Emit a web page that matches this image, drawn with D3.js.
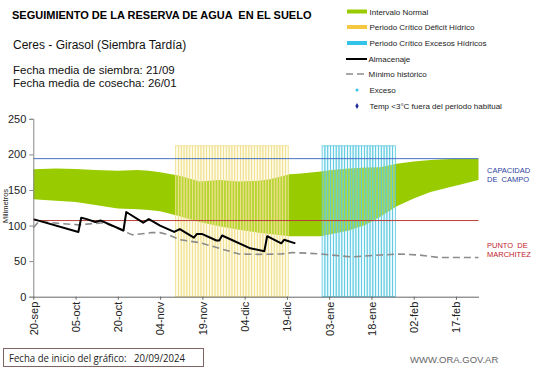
<!DOCTYPE html>
<html>
<head>
<meta charset="utf-8">
<script src="https://cdn.jsdelivr.net/npm/d3@7"></script>
<style>
  body { margin: 0; background: #fff; }
  svg { display: block; font-family: Arial, "Liberation Sans", sans-serif; }
  text { white-space: pre; }
</style>
</head>
<body>
<svg id="chart" width="541" height="368"></svg>
<script>
// data (days counted from 20/09/2024)
const startDate = new Date(2024, 8, 20);
const endDay = 158;

const tickLabels = ["20-sep", "05-oct", "20-oct", "04-nov", "19-nov", "04-dic", "19-dic", "03-ene", "18-ene", "02-feb", "17-feb"];

// Intervalo Normal (band)
const normalDays  = [0, 8, 15, 22, 30, 37, 41, 45, 52, 59, 66, 73, 80, 84, 91, 95, 102, 106, 112, 118, 123, 129, 135, 141, 148, 151, 158];
const normalUpper = [179, 180, 179.5, 178, 177, 178, 177, 175, 170, 162, 164, 162, 163, 165, 172, 173, 176, 178, 180, 181.5, 182, 187, 190, 192, 193.5, 194, 194];
const normalLower = [137, 135, 133, 129, 124, 123, 122, 120, 113, 105, 99, 94, 90, 88, 85, 85, 85, 88, 93, 101, 112, 127, 138, 147, 154, 157, 164];

// Almacenaje
const almDays   = [0, 16, 17, 19, 22, 24, 32, 33, 39, 41, 45, 50, 52, 57, 58, 60, 65, 66, 67, 77, 82, 83, 88, 89, 93];
const almValues = [109, 91, 111, 109, 105, 107, 93, 119, 104, 109, 100, 91, 95, 83, 88, 88, 79, 79, 86, 68, 64, 85, 75, 80, 75];

// Mínimo histórico
const minDays   = [0, 2, 9, 16, 19, 25, 30, 35, 42, 45, 48, 52, 59, 66, 73, 80, 88, 92, 98, 102, 106, 113, 123, 130, 137, 144, 158];
const minValues = [97, 106, 103, 101, 102, 104, 96, 87, 90, 90, 87, 80, 76, 68, 60, 59.5, 60, 62, 61, 60, 58.5, 56, 58.5, 60, 58.5, 55, 55];

// critical periods (daily bars)
const deficitPeriod = [new Date(2024, 10, 10), new Date(2024, 11, 19)];
const excessPeriod  = [new Date(2025, 0, 1), new Date(2025, 0, 26)];
const periodTop = 212;

const capacidadCampo = 194;
const puntoMarchitez = 107;

const yTicks = [0, 50, 100, 150, 200, 250];

const day = d => d3.timeDay.offset(startDate, d);

const svg = d3.select("#chart");
const x = d3.scaleTime().domain([startDate, day(endDay)]).range([33.3, 478.5]);
const y = d3.scaleLinear().domain([0, 250]).range([296.7, 118.8]);
const dayW = x(day(1)) - x(day(0));

// green band
const area = d3.area()
    .x(d => x(day(d.d)))
    .y0(d => y(d.lo))
    .y1(d => y(d.hi));
svg.append("path")
    .datum(normalDays.map((d, i) => ({d: d, hi: normalUpper[i], lo: normalLower[i]})))
    .attr("d", area)
    .attr("fill", "#99cc00");

// critical period bars
function periodBars(range, fill, stroke) {
    const days = d3.timeDay.range(range[0], d3.timeDay.offset(range[1], 1));
    svg.append("g")
        .selectAll("rect")
        .data(days)
        .join("rect")
        .attr("x", d => x(d) - dayW / 2)
        .attr("width", dayW)
        .attr("y", y(periodTop))
        .attr("height", y(0) - y(periodTop))
        .attr("fill", fill)
        .attr("fill-opacity", 0.3)
        .attr("stroke", stroke)
        .attr("stroke-width", 0.8);
}
periodBars(deficitPeriod, "#fbefa8", "#efdf90");
periodBars(excessPeriod, "#c4eef8", "#5cc8e0");

// reference lines
svg.append("line")
    .attr("x1", x.range()[0]).attr("x2", x.range()[1])
    .attr("y1", y(capacidadCampo)).attr("y2", y(capacidadCampo))
    .attr("stroke", "#4a72c4").attr("stroke-width", 1);
svg.append("line")
    .attr("x1", x.range()[0]).attr("x2", x.range()[1])
    .attr("y1", y(puntoMarchitez)).attr("y2", y(puntoMarchitez))
    .attr("stroke", "#b8403a").attr("stroke-width", 1);

const line = d3.line().x(d => x(day(d[0]))).y(d => y(d[1]));

// minimo historico
svg.append("path")
    .datum(minDays.map((d, i) => [d, minValues[i]]))
    .attr("d", line)
    .attr("fill", "none")
    .attr("stroke", "#8c8c8c")
    .attr("stroke-width", 1.6)
    .attr("stroke-dasharray", "7,4");

// almacenaje
svg.append("path")
    .datum(almDays.map((d, i) => [d, almValues[i]]))
    .attr("d", line)
    .attr("fill", "none")
    .attr("stroke", "#000")
    .attr("stroke-width", 2)
    .attr("stroke-linejoin", "round");

// axes
const yAxis = svg.append("g")
    .attr("transform", "translate(" + x.range()[0] + ",0)")
    .call(d3.axisLeft(y).tickValues(yTicks).tickSize(4).tickPadding(3));
yAxis.select(".domain").attr("stroke", "#888");
yAxis.selectAll(".tick line").attr("stroke", "#888");
yAxis.selectAll("text").attr("font-size", 11).attr("fill", "#222").attr("font-family", null);

const tickDates = tickLabels.map((t, i) => day(i * 15));
const xAxis = svg.append("g")
    .attr("transform", "translate(0," + y(0) + ")")
    .call(d3.axisBottom(x).tickValues(tickDates).tickSize(3).tickSizeOuter(0)
        .tickFormat((d, i) => tickLabels[i]));
xAxis.select(".domain").attr("stroke", "#666");
xAxis.selectAll(".tick line").attr("stroke", "#666");
xAxis.selectAll("text")
    .attr("font-size", 11)
    .attr("fill", "#222")
    .attr("font-family", null)
    .attr("text-anchor", "end")
    .attr("transform", "rotate(-90)")
    .attr("x", -5)
    .attr("y", 0)
    .attr("dy", "0.35em");

// y axis title
svg.append("text")
    .attr("transform", "translate(8,206) rotate(-90)")
    .attr("text-anchor", "middle")
    .attr("font-size", 7.5)
    .attr("fill", "#222")
    .text("Milimetros");

// right side labels
svg.append("text").attr("x", 487).attr("y", 173).attr("font-size", 7.5).attr("fill", "#2e3f9e").text("CAPACIDAD");
svg.append("text").attr("x", 487).attr("y", 182).attr("font-size", 7.5).attr("fill", "#2e3f9e").text("DE  CAMPO");
svg.append("text").attr("x", 487).attr("y", 248).attr("font-size", 7.5).attr("fill", "#c0202a").text("PUNTO  DE");
svg.append("text").attr("x", 487).attr("y", 257).attr("font-size", 7.5).attr("fill", "#c0202a").text("MARCHITEZ");

// header texts
svg.append("text").attr("x", 12).attr("y", 19)
    .attr("font-size", 11).attr("font-weight", "bold").attr("fill", "#000")
    .text("SEGUIMIENTO DE LA RESERVA DE AGUA  EN EL SUELO");
svg.append("text").attr("x", 13).attr("y", 49).attr("font-size", 12).attr("fill", "#111")
    .text("Ceres - Girasol (Siembra Tardía)");
svg.append("text").attr("x", 13).attr("y", 74).attr("font-size", 11.5).attr("fill", "#111")
    .text("Fecha media de siembra: 21/09");
svg.append("text").attr("x", 13).attr("y", 87).attr("font-size", 11.5).attr("fill", "#111")
    .text("Fecha media de cosecha: 26/01");

// legend
const legend = svg.append("g").attr("font-size", 8).attr("fill", "#222");
const legX = 369.5;
legend.append("rect").attr("x", 347).attr("y", 9.5).attr("width", 20).attr("height", 4).attr("fill", "#99cc00");
legend.append("text").attr("x", legX).attr("y", 14.5).text("Intervalo Normal");
legend.append("rect").attr("x", 347).attr("y", 25).attr("width", 20).attr("height", 4).attr("fill", "#f5c842");
legend.append("text").attr("x", legX).attr("y", 29.5).text("Periodo Crítico Déficit Hídrico");
legend.append("rect").attr("x", 347).attr("y", 41).attr("width", 20).attr("height", 4).attr("fill", "#33c3e8");
legend.append("text").attr("x", legX).attr("y", 45.5).text("Periodo Crítico Excesos Hídricos");
legend.append("line").attr("x1", 346).attr("x2", 367).attr("y1", 59).attr("y2", 59).attr("stroke", "#000").attr("stroke-width", 2);
legend.append("text").attr("x", legX - 1).attr("y", 62).text("Almacenaje");
legend.append("line").attr("x1", 346).attr("x2", 367).attr("y1", 74).attr("y2", 74)
    .attr("stroke", "#8c8c8c").attr("stroke-width", 1.6).attr("stroke-dasharray", "7,4");
legend.append("text").attr("x", legX - 1).attr("y", 77).text("Mínimo histórico");
legend.append("circle").attr("cx", 357).attr("cy", 90).attr("r", 1.5).attr("fill", "#33c3e8");
legend.append("text").attr("x", legX).attr("y", 93).text("Exceso");
legend.append("path").attr("d", d3.symbol(d3.symbolDiamond, 10)()).attr("transform", "translate(357,106)").attr("fill", "#1f2a9e");
legend.append("text").attr("x", legX).attr("y", 109).text("Temp <3°C fuera del periodo habitual");

// footer
svg.append("rect").attr("x", 3.5).attr("y", 348.5).attr("width", 200).attr("height", 18)
    .attr("fill", "#fff").attr("stroke", "#7f6464").attr("stroke-width", 1);
svg.append("text").attr("x", 9).attr("y", 362).attr("font-size", 11).attr("fill", "#222")
    .attr("font-family", "'Open Sans', sans-serif")
    .attr("textLength", 176).attr("lengthAdjust", "spacingAndGlyphs")
    .text("Fecha de inicio del gráfico:   20/09/2024");
svg.append("text").attr("x", 410).attr("y", 363).attr("font-size", 9.5).attr("fill", "#666")
    .text("WWW.ORA.GOV.AR");
</script>
</body>
</html>
